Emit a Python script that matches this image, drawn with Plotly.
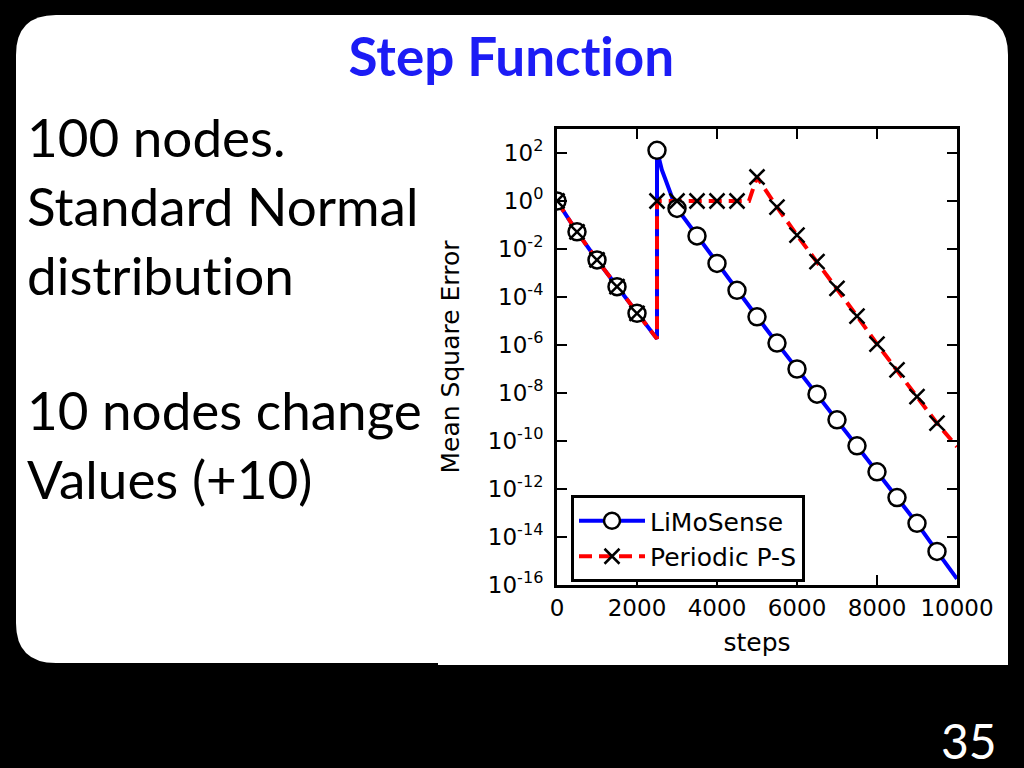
import numpy as np
import plotly.graph_objects as go

# ---- data ----
lim_marker_steps = [0, 500, 1000, 1500, 2000, 2500, 3000, 3500, 4000, 4500,
                    5000, 5500, 6000, 6500, 7000, 7500, 8000, 8500, 9000, 9500]
lim_marker_mse = [1.0, 5.2e-2, 3.5e-3, 2.7e-4, 2.1e-5, 1.3e2, 4.9e-1, 3.5e-2, 2.5e-3, 1.9e-4,
                  1.5e-5, 1.2e-6, 1.0e-7, 8.9e-9, 7.6e-10, 6.3e-11, 5.2e-12, 4.4e-13, 3.7e-14, 2.5e-15]

lim_line_steps = [0, 500, 1000, 1500, 2000, 2500, 2500, 2550, 2620, 2700, 2775, 2900, 3000,
                  3500, 4000, 4500, 5000, 5500, 6000, 6500, 7000, 7500, 8000, 8500, 9000, 9500, 10000]
lim_line_mse = [1.0, 5.2e-2, 3.5e-3, 2.7e-4, 2.1e-5, 1.8e-6, 1.3e2, 50, 20, 8.9, 4.0, 1.1, 4.9e-1,
                3.5e-2, 2.5e-3, 1.9e-4, 1.5e-5, 1.2e-6, 1.0e-7, 8.9e-9, 7.6e-10, 6.3e-11, 5.2e-12,
                4.4e-13, 3.7e-14, 2.5e-15, 1.8e-16]

ps_marker_steps = lim_marker_steps
ps_marker_mse = [1.0, 5.2e-2, 3.5e-3, 2.7e-4, 2.1e-5, 1.0, 1.0, 1.0, 1.0, 1.0,
                 10.0, 5.5e-1, 3.8e-2, 3.0e-3, 2.3e-4, 1.6e-5, 1.1e-6, 9.1e-8, 7.1e-9, 5.5e-10]

ps_line_steps = [0, 500, 1000, 1500, 2000, 2500, 2500, 4800, 5000, 5500, 6000, 6500,
                 7000, 7500, 8000, 8500, 9000, 9500, 10000]
ps_line_mse = [1.0, 5.2e-2, 3.5e-3, 2.7e-4, 2.1e-5, 1.8e-6, 1.0, 1.0, 10.0, 5.5e-1, 3.8e-2, 3.0e-3,
               2.3e-4, 1.6e-5, 1.1e-6, 9.1e-8, 7.1e-9, 5.5e-10, 5.8e-11]

x_ticks = [0, 2000, 4000, 6000, 8000, 10000]
x_ticktext = ['0', '2000', '4000', '6000', '8000', '10000']
y_exps = [2, 0, -2, -4, -6, -8, -10, -12, -14, -16]
y_ticks = [10.0 ** e for e in y_exps]
y_ticktext = ['10<sup>%d</sup>' % e for e in y_exps]

left_block1 = ['100 nodes.', 'Standard Normal', 'distribution']
left_block2 = ['10 nodes change', 'Values (+10)']
slide_title = 'Step Function'

# ---- page geometry (pixels -> paper) ----
W, H = 1024, 768
L, R, T, B = 557, 957, 129, 585


def px(x):
    return (x - L) / (R - L)


def py(y):
    return (B - y) / (B - T)


def rounded_path(x0, y0, x1, y1, r):
    pts = [
        ('M', [(x0 + r, y0)]), ('L', [(x1 - r, y0)]), ('Q', [(x1, y0), (x1, y0 + r)]),
        ('L', [(x1, y1 - r)]), ('Q', [(x1, y1), (x1 - r, y1)]), ('L', [(x0 + r, y1)]),
        ('Q', [(x0, y1), (x0, y1 - r)]), ('L', [(x0, y0 + r)]), ('Q', [(x0, y0), (x0 + r, y0)]),
    ]
    s = ''
    for cmd, ps in pts:
        s += cmd + ' ' + ' '.join('%.5f,%.5f' % (px(a), py(b)) for a, b in ps) + ' '
    return s + 'Z'


chart_font = 'DejaVu Sans'
slide_font = 'Lato'

fig = go.Figure()

fig.add_trace(go.Scatter(x=lim_line_steps, y=lim_line_mse, mode='lines',
                         line=dict(color='#0000ff', width=4), showlegend=False, hoverinfo='skip'))
fig.add_trace(go.Scatter(x=ps_line_steps, y=ps_line_mse, mode='lines',
                         line=dict(color='#ff0000', width=4, dash='13px,7px'), showlegend=False,
                         hoverinfo='skip'))
fig.add_trace(go.Scatter(x=lim_marker_steps, y=lim_marker_mse, mode='markers',
                         marker=dict(symbol='circle', size=17, color='white',
                                     line=dict(color='black', width=2.5)),
                         showlegend=False))
fig.add_trace(go.Scatter(x=ps_marker_steps, y=ps_marker_mse, mode='markers',
                         marker=dict(symbol='x-thin', size=15, color='black',
                                     line=dict(color='black', width=2.5)),
                         showlegend=False))

# legend entries
fig.add_trace(go.Scatter(x=[None], y=[None], mode='lines+markers', name='LiMoSense',
                         line=dict(color='#0000ff', width=4),
                         marker=dict(symbol='circle', size=17, color='white',
                                     line=dict(color='black', width=2.5))))
fig.add_trace(go.Scatter(x=[None], y=[None], mode='lines+markers', name='Periodic P-S',
                         line=dict(color='#ff0000', width=4, dash='13px,7px'),
                         marker=dict(symbol='x-thin', size=15, color='black',
                                     line=dict(color='black', width=2.5))))

shapes = [
    dict(type='path', xref='paper', yref='paper', layer='below',
         path=rounded_path(16, 15, 1008, 663, 40), fillcolor='white', line=dict(width=0)),
    dict(type='rect', xref='paper', yref='paper', layer='below',
         x0=px(438), x1=px(1008), y0=py(665), y1=py(118), fillcolor='white', line=dict(width=0)),
]

annotations = [
    dict(text='<b>%s</b>' % slide_title, x=px(511), y=py(55), xref='paper', yref='paper',
         xanchor='center', yanchor='middle', showarrow=False,
         font=dict(family=slide_font, size=53, color='#1c1cf5')),
    dict(text='<br>'.join(left_block1), x=px(25), y=py(103), xref='paper', yref='paper',
         xanchor='left', yanchor='top', align='left', showarrow=False,
         font=dict(family=slide_font, size=53, color='black')),
    dict(text='<br>'.join(left_block2), x=px(25), y=py(376), xref='paper', yref='paper',
         xanchor='left', yanchor='top', align='left', showarrow=False,
         font=dict(family=slide_font, size=53, color='black')),
    dict(text='35', x=px(999), y=py(740), xref='paper', yref='paper',
         xanchor='right', yanchor='middle', showarrow=False,
         font=dict(family=slide_font, size=48, color='white')),
]

fig.update_layout(
    width=W, height=H,
    margin=dict(l=L, r=W - R, t=T, b=H - B),
    paper_bgcolor='black',
    plot_bgcolor='white',
    font=dict(family=chart_font, size=23, color='black'),
    shapes=shapes,
    annotations=annotations,
    legend=dict(x=px(571), y=py(495), xanchor='left', yanchor='top',
                bgcolor='white', bordercolor='black', borderwidth=3,
                font=dict(family=chart_font, size=25, color='black'),
                itemwidth=66, tracegroupgap=0),
    xaxis=dict(type='linear', range=[0, 10000], tickvals=x_ticks, ticktext=x_ticktext,
               ticks='inside', ticklen=10, tickwidth=1.5, tickcolor='black',
               showline=True, linecolor='black', linewidth=3, mirror='allticks',
               showgrid=False, zeroline=False,
               title=dict(text='steps', font=dict(family=chart_font, size=25), standoff=14)),
    yaxis=dict(type='log', range=[-16, 3], tickvals=y_ticks, ticktext=y_ticktext,
               ticks='inside', ticklen=10, tickwidth=1.5, tickcolor='black',
               showline=True, linecolor='black', linewidth=3, mirror='allticks',
               showgrid=False, zeroline=False, ticklabelstandoff=6,
               title=dict(text='Mean Square Error', font=dict(family=chart_font, size=25), standoff=22)),
)

# no ligatures, no page margin, black page behind the figure
fix_page = (
    "document.body.style.margin='0';"
    "document.body.style.background='black';"
    "var s=document.createElement('style');"
    "s.textContent='text{font-variant-ligatures:none;font-feature-settings:\"liga\" 0;}';"
    "document.head.appendChild(s);"
)
fig.write_html('out.html', post_script=fix_page, config={'displayModeBar': False})
